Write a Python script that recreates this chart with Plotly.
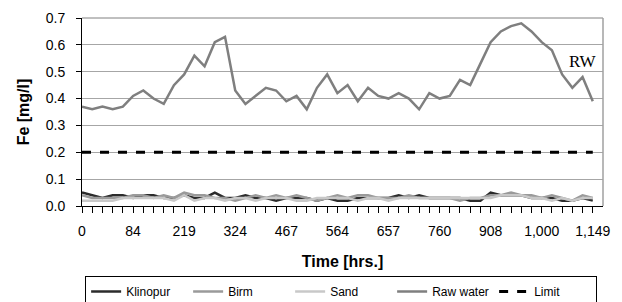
import plotly.graph_objects as go

hours = [0, 17, 34, 50, 67, 84, 111, 138, 165, 192, 219, 240, 261, 282, 303, 324, 353, 381, 410, 438,
         467, 486, 506, 525, 545, 564, 583, 601, 620, 638, 657, 678, 698, 719, 739, 760, 790, 819, 849, 878,
         908, 926, 945, 963, 982, 1000, 1030, 1060, 1089, 1119, 1149]
label_hours = [0, 84, 219, 324, 467, 564, 657, 760, 908, 1000, 1149]

raw_water = [0.37, 0.36, 0.37, 0.36, 0.37, 0.41, 0.43, 0.40, 0.38, 0.45, 0.49, 0.56, 0.52, 0.61, 0.63,
             0.43, 0.38, 0.41, 0.44, 0.43, 0.39, 0.41, 0.36, 0.44, 0.49, 0.42, 0.45, 0.39, 0.44, 0.41,
             0.40, 0.42, 0.40, 0.36, 0.42, 0.40, 0.41, 0.47, 0.45, 0.53, 0.61, 0.65, 0.67, 0.68, 0.65,
             0.61, 0.58, 0.49, 0.44, 0.48, 0.39]
klinopur = [0.05, 0.04, 0.03, 0.04, 0.04, 0.03, 0.04, 0.04, 0.03, 0.03, 0.04, 0.03, 0.03, 0.05, 0.03,
            0.03, 0.04, 0.03, 0.03, 0.02, 0.03, 0.03, 0.03, 0.02, 0.03, 0.02, 0.02, 0.03, 0.03, 0.03,
            0.03, 0.04, 0.03, 0.04, 0.03, 0.03, 0.03, 0.03, 0.02, 0.02, 0.05, 0.04, 0.04, 0.04, 0.03,
            0.03, 0.03, 0.02, 0.02, 0.03, 0.02]
birm = [0.04, 0.03, 0.03, 0.03, 0.03, 0.04, 0.04, 0.03, 0.04, 0.03, 0.05, 0.04, 0.04, 0.03, 0.03,
        0.02, 0.03, 0.04, 0.03, 0.04, 0.03, 0.04, 0.03, 0.02, 0.03, 0.04, 0.03, 0.04, 0.04, 0.03,
        0.03, 0.03, 0.04, 0.03, 0.03, 0.03, 0.03, 0.02, 0.03, 0.03, 0.04, 0.04, 0.05, 0.04, 0.04,
        0.03, 0.04, 0.03, 0.02, 0.04, 0.03]
sand = [0.02, 0.02, 0.02, 0.02, 0.03, 0.03, 0.03, 0.03, 0.03, 0.02, 0.04, 0.02, 0.03, 0.03, 0.02,
        0.03, 0.03, 0.02, 0.03, 0.03, 0.03, 0.02, 0.02, 0.03, 0.03, 0.03, 0.03, 0.02, 0.03, 0.03,
        0.02, 0.03, 0.03, 0.03, 0.03, 0.03, 0.03, 0.03, 0.03, 0.03, 0.03, 0.04, 0.04, 0.04, 0.03,
        0.03, 0.02, 0.03, 0.02, 0.03, 0.03]
limit = [0.2] * len(hours)

cats = [str(h) for h in hours]
ticktext = [(f"{h:,}" if h in label_hours else "") for h in hours]

fig = go.Figure()
fig.add_trace(go.Scatter(x=cats, y=klinopur, name="Klinopur", mode="lines",
                         line=dict(color="#2b2b2b", width=2.5)))
fig.add_trace(go.Scatter(x=cats, y=birm, name="Birm", mode="lines",
                         line=dict(color="#9a9a9a", width=2.5)))
fig.add_trace(go.Scatter(x=cats, y=sand, name="Sand", mode="lines",
                         line=dict(color="#c8c8c8", width=2.5)))
fig.add_trace(go.Scatter(x=cats, y=raw_water, name="Raw water", mode="lines",
                         line=dict(color="#7f7f7f", width=2.5)))
fig.add_trace(go.Scatter(x=cats, y=limit, name="Limit", mode="lines",
                         line=dict(color="#000000", width=3, dash="dash")))

fig.update_layout(
    width=614, height=294,
    margin=dict(l=74, r=19, t=10, b=96, autoexpand=False),
    paper_bgcolor="white", plot_bgcolor="white",
    font=dict(family="Liberation Sans, Arial", size=13, color="black"),
    showlegend=True,
    legend=dict(orientation="h", x=0.006, y=-0.372, xanchor="left", yanchor="top",
                bordercolor="black", borderwidth=1, font=dict(size=12),
                itemwidth=30, tracegroupgap=0, entrywidth=57, entrywidthmode="pixels"),
    xaxis=dict(type="category", categoryorder="array", categoryarray=cats,
               tickmode="array", tickvals=cats, ticktext=ticktext,
               range=[0, 51], showgrid=False, showline=True, linecolor="black", linewidth=1,
               ticks="outside", ticklen=6, tickcolor="black", tickangle=0,
               ticklabelstandoff=6, tickfont=dict(size=14),
               title=dict(text="<b>Time [hrs.]</b>", font=dict(size=16), standoff=18)),
    yaxis=dict(range=[0, 0.7], tickvals=[0, 0.1, 0.2, 0.3, 0.4, 0.5, 0.6, 0.7],
               ticktext=["0.0", "0.1", "0.2", "0.3", "0.4", "0.5", "0.6", "0.7"],
               showgrid=True, gridcolor="#a6a6a6", gridwidth=1,
               showline=True, linecolor="black", linewidth=1,
               ticks="outside", ticklen=5, tickcolor="black", zeroline=False,
               ticklabelstandoff=8, tickfont=dict(size=14),
               title=dict(text="<b>Fe [mg/l]</b>", font=dict(size=16), standoff=12)),
    shapes=[
        dict(type="line", xref="paper", yref="paper", x0=0, x1=1, y0=1, y1=1,
             line=dict(color="#808080", width=1)),
        dict(type="line", xref="paper", yref="paper", x0=1, x1=1, y0=0, y1=1,
             line=dict(color="#a0a0a0", width=1.5)),
    ],
    annotations=[
        dict(text="RW", xref="paper", yref="paper", x=0.96, y=0.766, showarrow=False,
             xanchor="center", yanchor="middle",
             font=dict(family="Liberation Serif, Times New Roman", size=17, color="black"))
    ],
)

fig.write_html("out.html")
